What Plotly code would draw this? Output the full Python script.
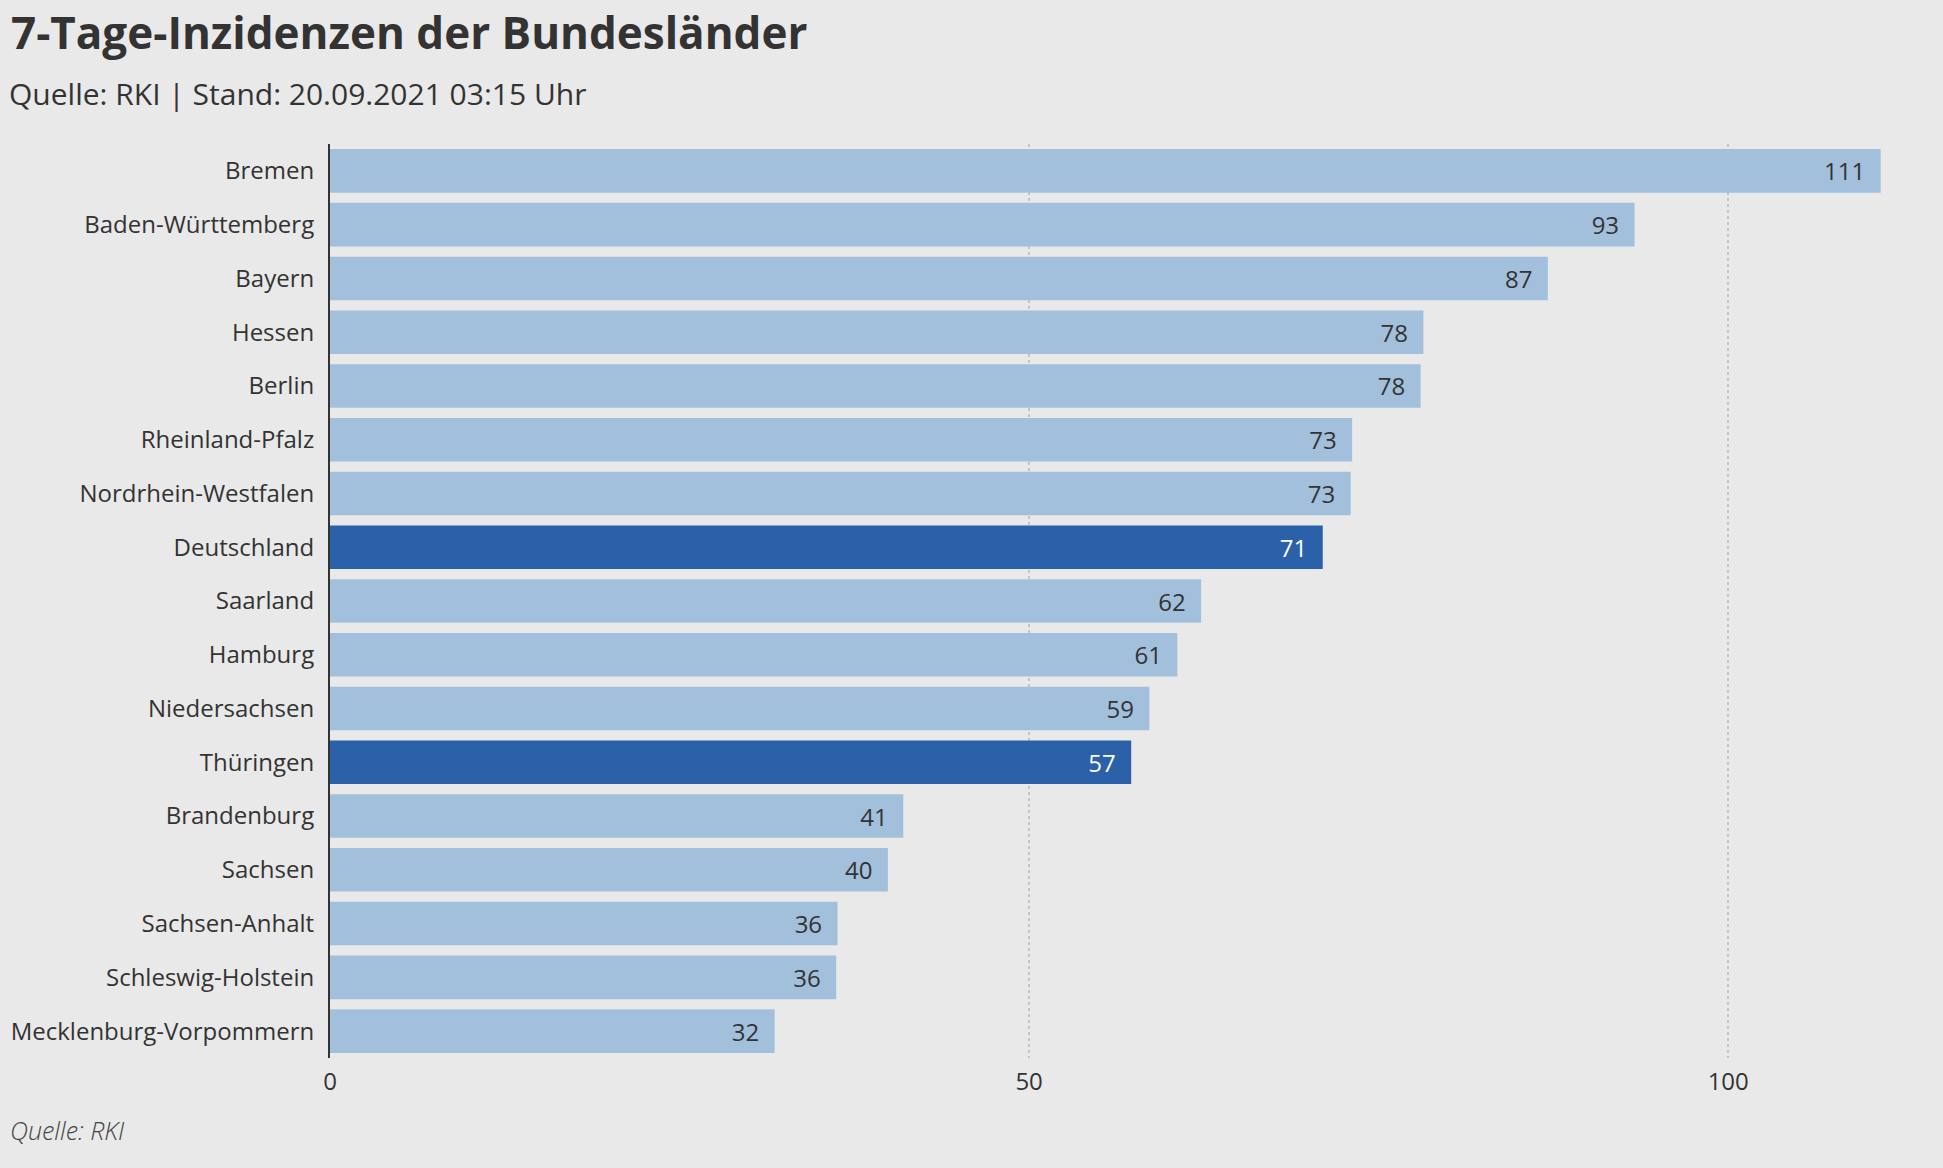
import plotly.graph_objects as go

laender = ["Bremen", "Baden-Württemberg", "Bayern", "Hessen", "Berlin",
           "Rheinland-Pfalz", "Nordrhein-Westfalen", "Deutschland", "Saarland",
           "Hamburg", "Niedersachsen", "Thüringen", "Brandenburg", "Sachsen",
           "Sachsen-Anhalt", "Schleswig-Holstein", "Mecklenburg-Vorpommern"]
inzidenz = [110.9, 93.3, 87.1, 78.2, 78.0, 73.1, 73.0, 71.0, 62.3,
            60.6, 58.6, 57.3, 41.0, 39.9, 36.3, 36.2, 31.8]
hervorgehoben = ["Deutschland", "Thüringen"]
x_ticks = [0, 50, 100]

LIGHT = "#a2c0dc"
DARK = "#2b61a9"
BG = "#e9e9e9"
TXT = "#333333"

bar_colors = [DARK if l in hervorgehoben else LIGHT for l in laender]
text_colors = ["#ffffff" if l in hervorgehoben else TXT for l in laender]

W, H = 1943, 1168
ML, MR, MT, MB = 330, 33, 144, 110
PW = W - ML - MR
PH = H - MT - MB

def px_x(px):
    return (px - ML) / PW

def px_y(py):
    return (H - MB - py) / PH

fig = go.Figure(go.Bar(
    y=laender,
    x=inzidenz,
    orientation="h",
    marker=dict(color=bar_colors, line=dict(width=0)),
    texttemplate="%{x:.0f}\u00a0\u00a0",
    textposition="inside",
    insidetextanchor="end",
    textangle=0,
    textfont=dict(family="Open Sans", size=24, color=text_colors),
    hoverinfo="skip",
))

fig.update_layout(
    width=W, height=H,
    margin=dict(l=ML, r=MR, t=MT, b=MB, pad=0, autoexpand=False),
    paper_bgcolor=BG,
    plot_bgcolor=BG,
    bargap=0.19,
    showlegend=False,
    font=dict(family="Open Sans", color=TXT, size=24),
    title=dict(
        text="7-Tage-Inzidenzen der Bundesländer",
        font=dict(family="Open Sans", size=44, color=TXT, weight=700),
        xref="container", yref="container",
        x=11 / W, xanchor="left",
        y=1 - 34 / H, yanchor="middle",
    ),
    xaxis=dict(
        range=[0, 113],
        tickvals=x_ticks,
        ticktext=[str(v) for v in x_ticks],
        showgrid=True,
        gridcolor="#c4c4c4",
        gridwidth=1.5,
        griddash="dot",
        zeroline=False,
        showline=False,
        ticks="outside",
        ticklen=2,
        tickcolor="rgba(0,0,0,0)",
        tickfont=dict(family="Open Sans", size=24, color=TXT),
        automargin=False,
        fixedrange=True,
    ),
    yaxis=dict(
        autorange="reversed",
        showgrid=False,
        zeroline=False,
        showline=True,
        linecolor=TXT,
        linewidth=2,
        ticks="outside",
        ticklen=9,
        tickcolor="rgba(0,0,0,0)",
        tickfont=dict(family="Open Sans", size=24, color=TXT),
        automargin=False,
        fixedrange=True,
    ),
    annotations=[
        dict(
            text="Quelle: RKI | Stand: 20.09.2021 03:15 Uhr",
            xref="paper", yref="paper",
            x=px_x(7), y=px_y(94),
            xanchor="left", yanchor="middle",
            showarrow=False,
            font=dict(family="Open Sans", size=30, color=TXT),
        ),
        dict(
            text="Quelle: RKI",
            xref="paper", yref="paper",
            x=px_x(8), y=px_y(1130),
            xanchor="left", yanchor="middle",
            showarrow=False,
            font=dict(family="Open Sans", size=25, color="#444444",
                      style="italic", weight=300),
        ),
    ],
)

fig.write_html(
    "out.html",
    config={"displayModeBar": False},
    post_script="document.body.style.margin='0';document.body.style.background='" + BG + "';",
)
